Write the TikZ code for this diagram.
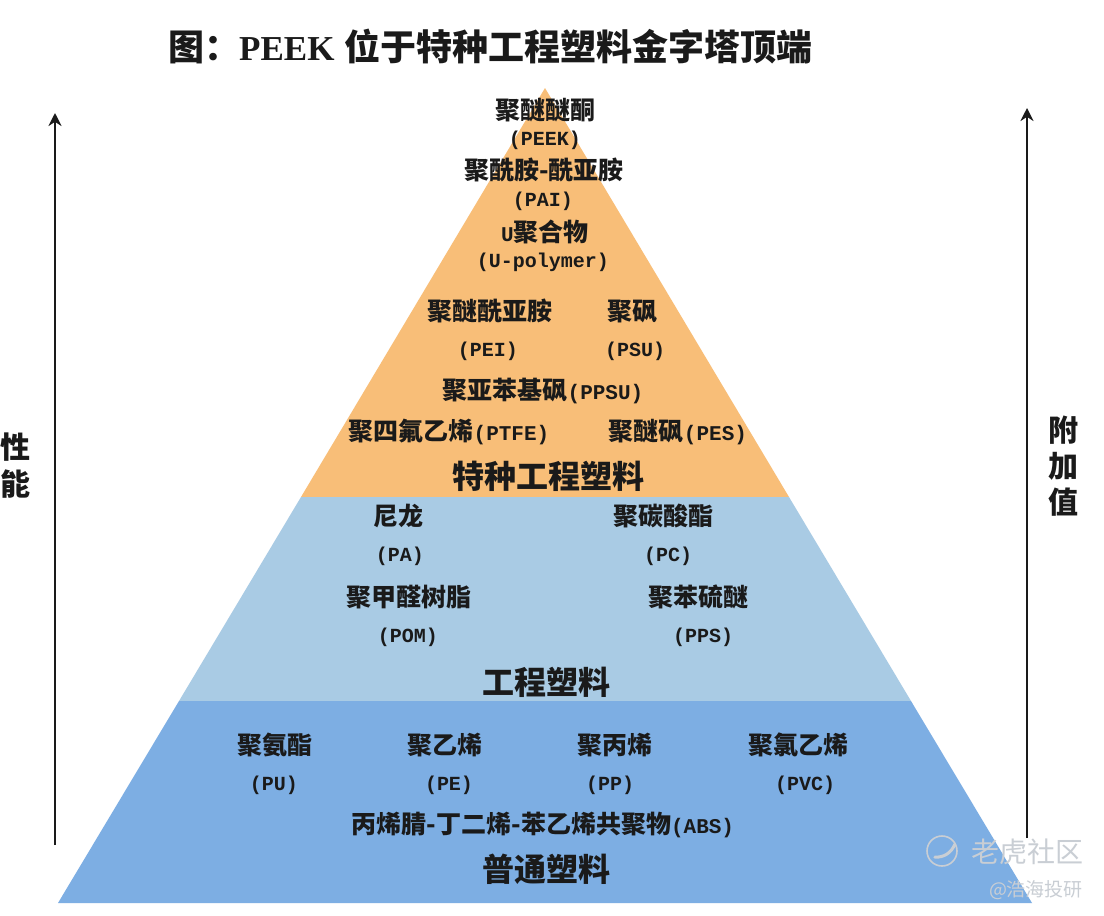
\documentclass[tikz,border=0pt]{standalone}
\usepackage{fontspec}
\setmainfont{Liberation Mono}
\newfontfamily\cjk{Noto Sans CJK SC}
\newfontfamily\ttl{Liberation Serif}
\definecolor{orangeband}{HTML}{F8BE78}
\definecolor{paleband}{HTML}{A9CBE4}
\definecolor{blueband}{HTML}{7DAEE3}
\definecolor{inkc}{HTML}{1A1A1A}
\definecolor{wm}{HTML}{C9CED4}
\usetikzlibrary{arrows.meta}
\tikzset{
  lab/.style={inner sep=0pt,text=inkc,font=\fontsize{25}{27}\selectfont\bfseries\cjk},
  latn/.style={inner sep=0pt,text=inkc,font=\fontsize{20}{22}\selectfont\bfseries},
  big/.style={inner sep=0pt,text=inkc,font=\fontsize{32}{34}\selectfont\bfseries\cjk},
  side/.style={inner sep=0pt,text=inkc,font=\fontsize{30}{32}\selectfont\bfseries\cjk},
  ttlbox/.style={inner sep=0pt,text=inkc,font=\fontsize{36}{38}\selectfont\bfseries\cjk},
  band/.style={draw=none},
  axisline/.style={draw=inkc,line width=2.4pt,-{Stealth[length=13pt,width=13pt]}},
  wmk/.style={inner sep=0pt,text=wm}
}
\newcommand{\mx}[2]{{\cjk #1}{\fontsize{21}{23}\selectfont\rmfamily\bfseries #2}}
\begin{document}
\begin{tikzpicture}[x=1pt,y=-1pt]
\useasboundingbox (0,0) rectangle (1104,916);
\fill[white] (0,0) rectangle (1104,916);
% pyramid
\fill[band,orangeband] (545,88) -- (301,497) -- (789,497) -- cycle;
\fill[band,paleband] (301,497) -- (179,701) -- (911,701) -- (789,497) -- cycle;
\fill[band,blueband] (179,701) -- (58,903) -- (1032,903) -- (911,701) -- cycle;
% title
\node[ttlbox,anchor=west] (t1) at (168,47) {图：};
\node[inner sep=0pt,text=inkc,anchor=west,font=\fontsize{35}{37}\selectfont\ttl\bfseries] (t2) at (239,49) {PEEK};
\node[ttlbox,anchor=west] (t3) at (344,47) {位于特种工程塑料金字塔顶端};
% top tier
\node[lab] (a1) at (545,110) {聚醚醚酮};
\node[latn] (a2) at (545,140) {(PEEK)};
\node[lab] (a3) at (544,170) {聚酰胺-酰亚胺};
\node[latn] (a4) at (543,201) {(PAI)};
\node[lab] (a5) at (545,232) {\mx{}{U}聚合物};
\node[latn] (a6) at (543,262) {(U-polymer)};
\node[lab] (a7) at (490,311) {聚醚酰亚胺};
\node[lab] (a8) at (632,311) {聚砜};
\node[latn] (a9) at (488,351) {(PEI)};
\node[latn] (a10) at (635,351) {(PSU)};
\node[lab] (a11) at (543,391) {\mx{聚亚苯基砜}{(PPSU)}};
\node[lab] (a12) at (449,432) {\mx{聚四氟乙烯}{(PTFE)}};
\node[lab] (a13) at (678,432) {\mx{聚醚砜}{(PES)}};
\node[big] (a14) at (548,476) {特种工程塑料};
% middle tier
\node[lab] (b1) at (398,516) {尼龙};
\node[lab] (b2) at (663,516) {聚碳酸酯};
\node[latn] (b3) at (400,556) {(PA)};
\node[latn] (b4) at (668,556) {(PC)};
\node[lab] (b5) at (409,597) {聚甲醛树脂};
\node[lab] (b6) at (698,597) {聚苯硫醚};
\node[latn] (b7) at (408,637) {(POM)};
\node[latn] (b8) at (703,637) {(PPS)};
\node[big] (b9) at (546,682) {工程塑料};
% bottom tier
\node[lab] (c1) at (275,745) {聚氨酯};
\node[lab] (c2) at (445,745) {聚乙烯};
\node[lab] (c3) at (615,745) {聚丙烯};
\node[lab] (c4) at (798,745) {聚氯乙烯};
\node[latn] (c5) at (274,785) {(PU)};
\node[latn] (c6) at (449,785) {(PE)};
\node[latn] (c7) at (610,785) {(PP)};
\node[latn] (c8) at (805,785) {(PVC)};
\node[lab] (c9) at (543,825) {\mx{丙烯腈-丁二烯-苯乙烯共聚物}{(ABS)}};
\node[big] (c10) at (546,869) {普通塑料};
% side labels
\node[side] (s1) at (15,447) {性};
\node[side] (s2) at (15,484) {能};
\node[side] (v1) at (1063,430) {附};
\node[side] (v2) at (1063,466) {加};
\node[side] (v3) at (1063,502) {值};
% axes
\coordinate (l0) at (55,845);
\coordinate (l1) at (55,113);
\coordinate (r0) at (1027,838);
\coordinate (r1) at (1027,108);
\draw[axisline] (l0) -- (l1);
\draw[axisline] (r0) -- (r1);
% watermark
\node[draw=wm,line width=1.6pt,circle,minimum size=30pt,inner sep=0pt] (w0) at (942,851) {};
\draw[wm,line width=3pt,line cap=round] (w0.south west) ++(4,-5) to[bend right=35] ++(20,-13);
\node[wmk,font=\fontsize{28}{30}\selectfont\cjk] (w1) at (1027,852) {老虎社区};
\node[wmk,font=\fontsize{19}{21}\selectfont\cjk] (w2) at (1036,890) {@浩海投研};
\end{tikzpicture}
\end{document}
